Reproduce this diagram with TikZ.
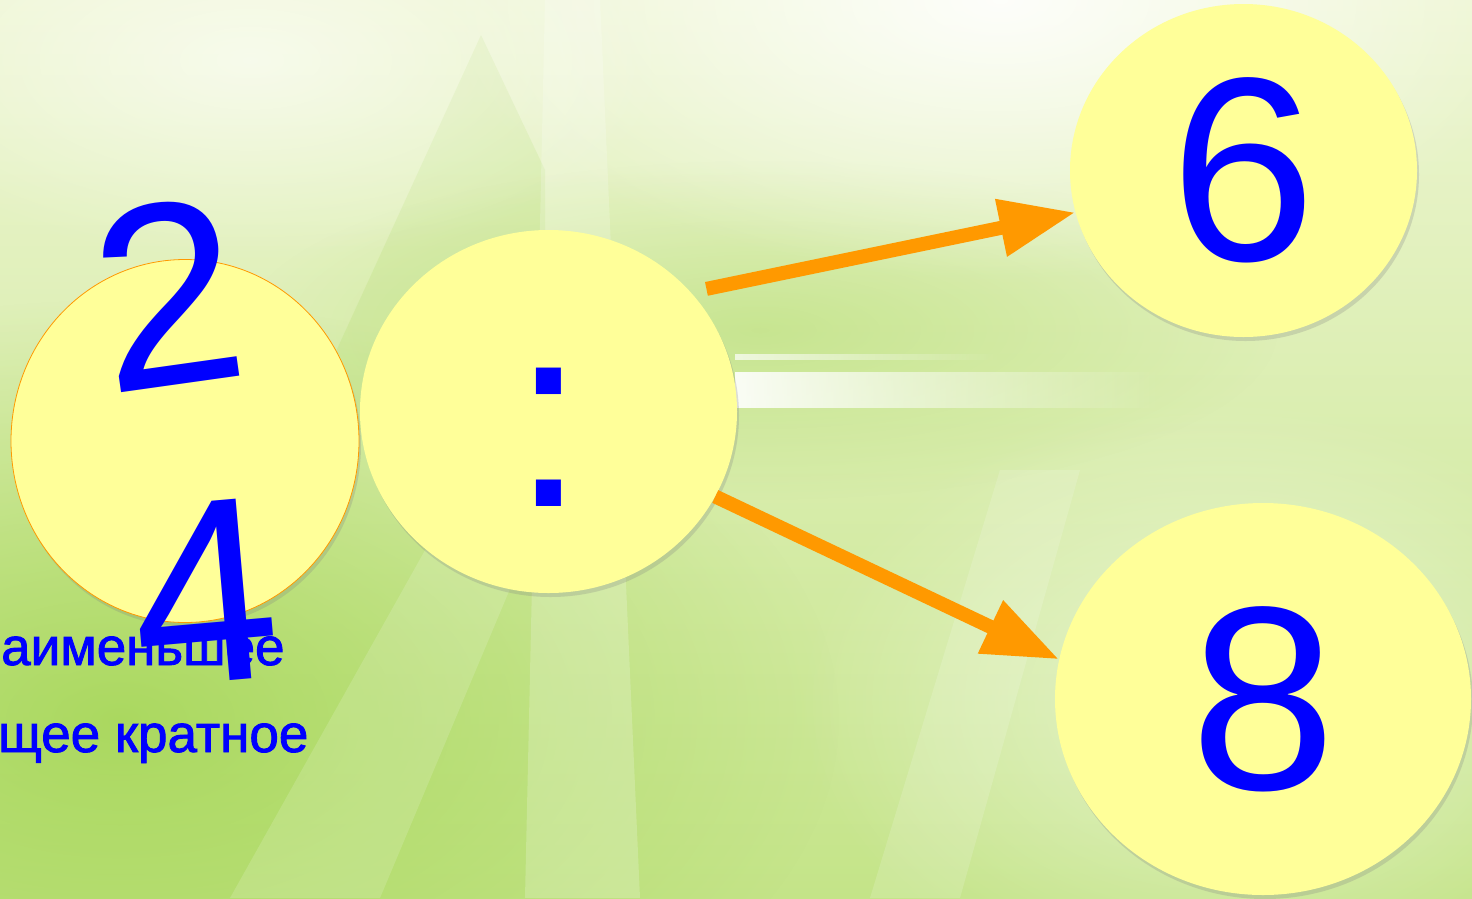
\documentclass[tikz,border=0pt]{standalone}
\usepackage{fontspec}
\setmainfont{Liberation Sans}
\newfontfamily\heavyfont[FakeBold=1.6]{Liberation Sans}
\usepackage{tikz}
\usetikzlibrary{arrows.meta,shapes.geometric,shadows,fadings}
\definecolor{bgtop}{HTML}{EEF6D3}
\definecolor{bgmid}{HTML}{D2EB9E}
\definecolor{bgbottom}{HTML}{C4E488}
\definecolor{leafgreen}{HTML}{9CD248}
\definecolor{bubblefill}{HTML}{FFFF99}
\definecolor{numblue}{HTML}{0000FF}
\definecolor{arroworange}{HTML}{FF9900}
\tikzfading[name=fadetoright, left color=transparent!0, right color=transparent!100]
\tikzfading[name=glowfade, inner color=transparent!0, outer color=transparent!100]

\begin{document}
\begin{tikzpicture}[
  x=1pt, y=-1pt,
  bubble/.style={ellipse, fill=bubblefill, inner sep=0pt,
               drop shadow={opacity=.25, shadow xshift=2pt, shadow yshift=-4pt}},
  bignum/.style={font=\fontsize{262}{262}\selectfont, text=numblue, inner sep=0pt},
  caption/.style={font=\heavyfont\fontsize{53}{60}\selectfont, text=numblue, inner sep=0pt,
               anchor=base west},
  arrow/.style={-{Triangle[length=76pt, width=55pt]}, line width=14pt, arroworange},
]
\useasboundingbox (0,0) rectangle (1472,898);

% background
\shade[top color=bgtop, middle color=bgmid, bottom color=bgbottom] (0,0) rectangle (1472,898);
\fill[leafgreen, opacity=.7, path fading=glowfade] (120,720) ellipse (720 and 420);
\fill[leafgreen, opacity=.35, path fading=glowfade] (760,330) ellipse (520 and 170);
\fill[leafgreen, opacity=.15] (481,35) -- (545,170) -- (545,430) -- (300,430) -- cycle;
\fill[white, opacity=.2] (545,0) -- (600,0) -- (640,898) -- (525,898) -- cycle;
\fill[white, opacity=.15] (870,898) -- (1000,470) -- (1080,470) -- (960,898) -- cycle;
\fill[white, opacity=.15] (230,898) -- (470,470) -- (560,470) -- (380,898) -- cycle;
\fill[white, opacity=.5, path fading=glowfade] (1220,700) ellipse (420 and 300);
\fill[white, opacity=.9, path fading=glowfade] (1000,0) ellipse (560 and 280);
\fill[white, opacity=.6, path fading=glowfade] (250,60) ellipse (420 and 200);
\fill[white, opacity=.9, path fading=fadetoright] (735,372) rectangle (1160,408);
\fill[white, opacity=.7, path fading=fadetoright] (735,354) rectangle (1000,360);

% circles
\node[bubble, draw=arroworange, line width=.8pt, minimum width=348pt, minimum height=363pt]
  (pair) at (185,441) {};
\node[bubble, minimum width=377pt, minimum height=363pt] (ratio) at (548.5,411.5) {};
\node[bubble, bignum, minimum width=347pt, minimum height=333pt] (six) at (1243.5,170.5) {6};
\node[bubble, bignum, minimum width=416pt, minimum height=392pt] (eight) at (1263,699) {8};

\node[bignum, rotate=8] (two) at (168,294) {2};
\node[bignum, rotate=5] (four) at (204,592) {4};
\node[bignum] (colon) at (549,437.5) {:};

\node[caption] (lcmtop) at (1,665) {аименьшее};
\node[caption] (lcmbottom) at (-2,752) {щее кратное};

\draw[arrow, shorten <=16pt] (ratio.40) -- (six.194);
\draw[arrow] (ratio.-27) -- (eight.169);

\end{tikzpicture}
\end{document}
